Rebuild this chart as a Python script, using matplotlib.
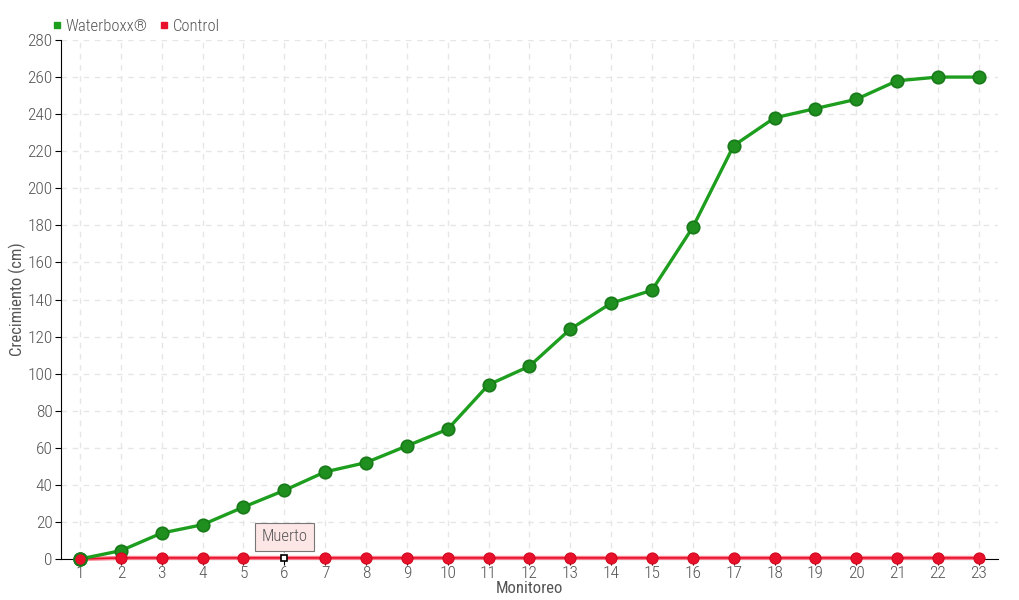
import matplotlib
matplotlib.use("Agg")
import matplotlib.pyplot as plt
from matplotlib.lines import Line2D
from matplotlib import font_manager

monitoreo = list(range(1, 24))
waterboxx = [0, 4.5, 14, 18.5, 28, 37, 47, 52, 61, 70, 94, 104, 124, 138, 145, 179, 223, 238, 243, 248, 258, 260, 260]
control = [0, 0.6, 0.6, 0.6, 0.6, 0.6, 0.6, 0.6, 0.6, 0.6, 0.6, 0.6, 0.6, 0.6, 0.6, 0.6, 0.6, 0.6, 0.6, 0.6, 0.6, 0.6, 0.6]
dead_index = 5
dead_label = "Muerto"

names = {f.name for f in font_manager.fontManager.ttflist}
fam = "DejaVu Sans"
for cand in ["Roboto Condensed", "Liberation Sans Narrow", "Open Sans Condensed", "DejaVu Sans Condensed", "Roboto"]:
    if cand in names:
        fam = cand
        break
plt.rcParams['font.family'] = [fam, 'DejaVu Sans']
plt.rcParams['font.weight'] = 'light'

txt = "#555555"
green = "#1e9e1e"
green_m = "#1f8f1f"
red = "#e8102a"

fig = plt.figure(figsize=(10.2, 6), dpi=100)
ax = fig.add_axes([61/1020, 41/600, 937/1020, 519/600])
ax.set_xlim(0.535, 23.47)
ax.set_ylim(0, 280)

ax.plot(monitoreo, waterboxx, color=green, lw=2.4, marker='o', ms=9,
        markerfacecolor=green_m, markeredgecolor="#187a18", markeredgewidth=1.2,
        clip_on=False, zorder=4)
cx = [m for i, m in enumerate(monitoreo) if i != dead_index]
cy = [v for i, v in enumerate(control) if i != dead_index]
ax.plot(monitoreo, control, color="#ff8090", lw=3, clip_on=False, zorder=3)
ax.plot(monitoreo, control, color=red, lw=1.2, clip_on=False, zorder=3)
ax.plot(cx, cy, ls='none', marker='o', ms=8, markerfacecolor=red,
        markeredgecolor="#d00a20", markeredgewidth=0.8, clip_on=False, zorder=5)
ax.plot([monitoreo[0]], [control[0]], ls='none', marker='o', ms=9, markerfacecolor=red,
        markeredgecolor="#187a18", markeredgewidth=1.5, clip_on=False, zorder=6)
ax.plot([monitoreo[dead_index]], [control[dead_index]], ls='none', marker='s', ms=5,
        markerfacecolor='white', markeredgecolor='black', markeredgewidth=1.2,
        clip_on=False, zorder=6)
ax.annotate(dead_label, xy=(monitoreo[dead_index], control[dead_index] + 3),
            xytext=(monitoreo[dead_index], 12), ha='center', va='center',
            fontsize=12, color=txt,
            bbox=dict(boxstyle='square,pad=0.4', fc='#fde6e6', ec='#777777', lw=0.8),
            arrowprops=dict(arrowstyle='-', color='#777777', lw=0.8), zorder=7)

ax.set_xticks(monitoreo)
ax.set_yticks(range(0, 281, 20))
ax.grid(True, color='#e6e6e6', ls=(0, (4, 4)), lw=1)
ax.set_axisbelow(True)
for s in ['top', 'right']:
    ax.spines[s].set_visible(False)
ax.spines['left'].set_color('black')
ax.spines['bottom'].set_color('black')
ax.tick_params(axis='both', colors=txt, labelsize=12.5, length=4, color='black')
ax.tick_params(axis='x', pad=1)
ax.tick_params(axis='y', pad=2)
ax.set_xlabel("Monitoreo", color=txt, fontsize=12, labelpad=0)
ax.set_ylabel("Crecimiento (cm)", color=txt, fontsize=12, labelpad=1)

handles = [Line2D([], [], ls='none', marker='s', ms=5, color=green),
           Line2D([], [], ls='none', marker='s', ms=5, color=red)]
fig.legend(handles, ["Waterboxx®", "Control"], loc='upper left',
           bbox_to_anchor=(44/1020, 1 - 12/600), ncol=2, frameon=False,
           fontsize=12, labelcolor=txt, handletextpad=0.1, columnspacing=0.6,
           handlelength=0.8, borderaxespad=0)

fig.savefig("out.png", dpi=100)
